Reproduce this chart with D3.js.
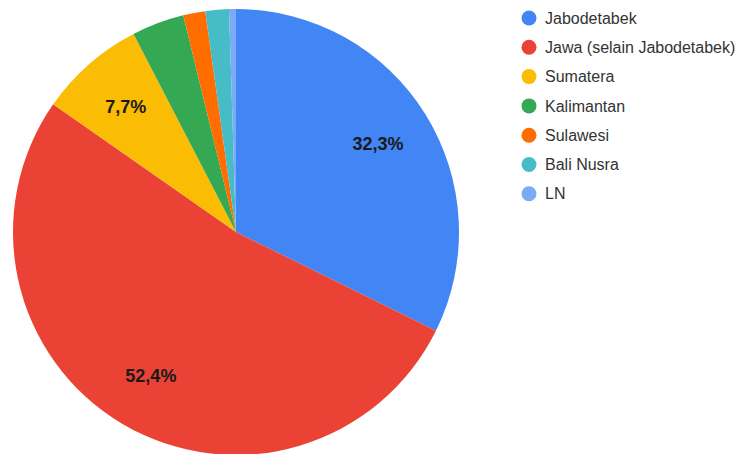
<!DOCTYPE html>
<html>
<head>
<meta charset="utf-8">
<script src="https://cdn.jsdelivr.net/npm/d3@7"></script>
<style>
  body { margin: 0; background: #fff; }
  svg { display: block; font-family: Arial, "Liberation Sans", sans-serif; }
</style>
</head>
<body>
<svg width="737" height="454"></svg>
<script>
const categories = ['Jabodetabek', 'Jawa (selain Jabodetabek)', 'Sumatera', 'Kalimantan', 'Sulawesi', 'Bali Nusra', 'LN'];
const values = [32.3, 52.4, 7.7, 3.8, 1.6, 1.7, 0.5];
const sliceColors = ['#4285F4', '#EA4335', '#FBBC04', '#34A853', '#FF6D01', '#46BDC6', '#7BAAF7'];

const data = categories.map((c, i) => ({ label: c, value: values[i] }));

const svg = d3.select('svg');
const cx = 236, cy = 232, r = 223;

let pie = d3.pie().value(d => d.value).sort(null);
let arcData = pie(data);

let arcGenerator = d3.arc().innerRadius(0).outerRadius(r);
let labelArc = d3.arc().innerRadius(r * 0.75).outerRadius(r * 0.75);

let colors = d3.scaleOrdinal().domain(categories).range(sliceColors);

let g = svg.append('g').attr('transform', `translate(${cx},${cy})`);

g.selectAll('path')
  .data(arcData)
  .join('path')
  .attr('d', arcGenerator)
  .attr('fill', d => colors(d.data.label));

// only the big slices get a label
g.selectAll('text')
  .data(arcData.filter(d => d.data.value > 5))
  .join('text')
  .attr('transform', d => `translate(${labelArc.centroid(d)})`)
  .attr('text-anchor', 'middle')
  .attr('dy', '0.35em')
  .attr('font-size', 18)
  .attr('font-weight', 'bold')
  .attr('fill', '#1a1a1a')
  .text(d => d.data.value.toFixed(1).replace('.', ',') + '%');

let legend = svg.append('g').attr('transform', 'translate(529,18)');

let items = legend.selectAll('g')
  .data(data)
  .join('g')
  .attr('transform', (d, i) => `translate(0,${i * 29.3})`);

items.append('circle')
  .attr('r', 7.5)
  .attr('fill', d => colors(d.label));

items.append('text')
  .attr('x', 16)
  .attr('dy', '0.35em')
  .attr('font-size', 16)
  .attr('fill', '#333')
  .text(d => d.label);
</script>
</body>
</html>
